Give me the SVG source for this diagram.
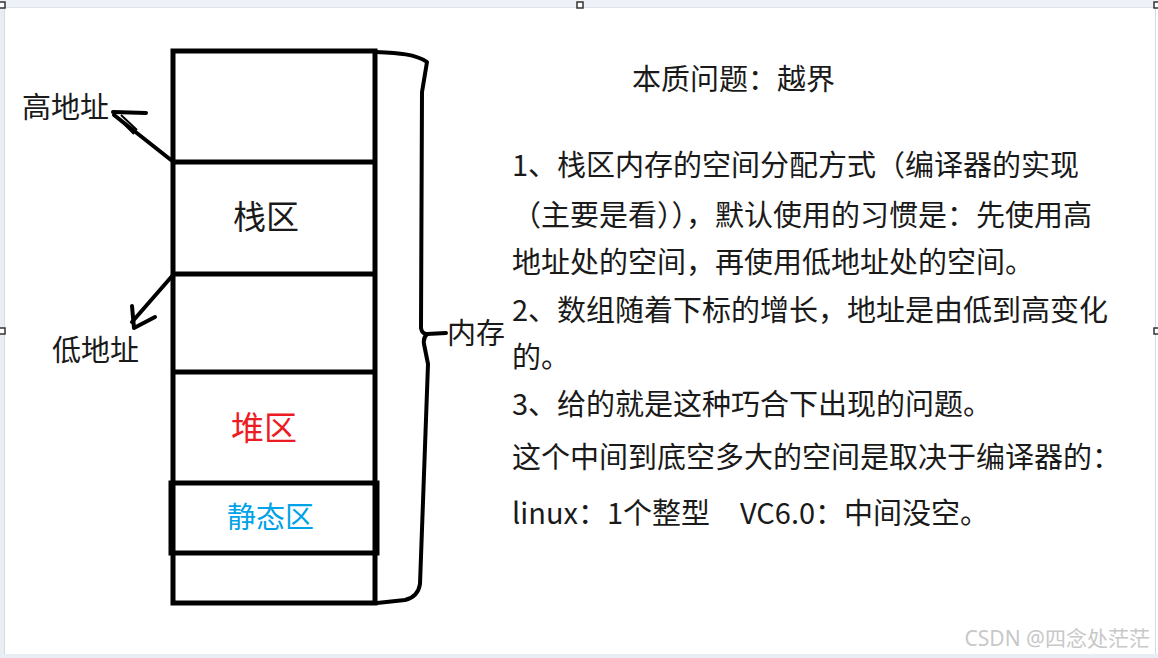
<svg xmlns="http://www.w3.org/2000/svg" width="1158" height="658" viewBox="0 0 1158 658">
<style>
.t{font-family:"Microsoft YaHei","Noto Sans CJK SC","Noto Sans",sans-serif;fill:#1a1a1a}
.b{fill:none;stroke:#000;stroke-width:5}
.h{fill:none;stroke:#000;stroke-width:4;stroke-linecap:round;stroke-linejoin:round}
.hd{fill:#fff;stroke:#333;stroke-width:1.5}
</style>
<rect x="0" y="0" width="1158" height="658" fill="#fff"/>
<g id="frame">
<rect x="0" y="0" width="1158" height="7" fill="#eef2f8"/>
<line x1="0" y1="7.5" x2="1158" y2="7.5" stroke="#dde3ea" stroke-width="1"/>
<rect x="0" y="7" width="4" height="651" fill="#e9eef5"/>
<line x1="4.5" y1="7" x2="4.5" y2="658" stroke="#d5dbe3" stroke-width="1"/>
<line x1="1155.5" y1="7" x2="1155.5" y2="658" stroke="#d5dbe3" stroke-width="1"/>
<rect x="0" y="654" width="1158" height="4" fill="#e9eef5"/>
<rect x="-1" y="2" width="6" height="6" class="hd"/>
<rect x="577" y="2" width="6" height="6" class="hd"/>
<rect x="1154" y="2" width="6" height="6" class="hd"/>
<rect x="-1" y="328" width="6" height="6" class="hd"/>
<rect x="1154" y="328" width="6" height="6" class="hd"/>
</g>
<g id="memory">
<rect x="173" y="51" width="202" height="552" class="b"/>
<line x1="173" y1="162" x2="375" y2="162" class="b"/>
<line x1="173" y1="274" x2="375" y2="274" class="b"/>
<line x1="173" y1="372" x2="375" y2="372" class="b"/>
</g>
<g id="stack">
<text class="t" x="233" y="229" font-size="33">栈区</text>
</g>
<g id="heap">
<text class="t" x="231" y="440" font-size="33" style="fill:#ed1c24">堆区</text>
</g>
<g id="static">
<rect x="171" y="483" width="206" height="70" class="b" stroke-width="6"/>
<text class="t" x="227" y="528" font-size="29" style="fill:#00a2e8">静态区</text>
</g>
<g id="connectors">
<path class="h" d="M171,160 L114,115"/>
<path class="h" d="M113,112 L146,113"/>
<path fill="none" stroke="#000" stroke-width="2" d="M116,116 L134,134 M121,115 L137,130"/>
<path class="h" d="M173,275 L132,322"/>
<path class="h" d="M132,306 L134,328 L155,317"/>
<path class="h" d="M376,52 C398,53 416,54 427,62 L422,92 L421,328 Q422,334 427,334 L446,333"/>
<path class="h" d="M427,334 Q423,338 424,344 L428,364 L420,584 Q418,597 405,600 L377,603"/>
</g>
<g id="labels">
<text class="t" x="22" y="118" font-size="29">高地址</text>
<text class="t" x="52" y="361" font-size="29">低地址</text>
<text class="t" x="447" y="344" font-size="29">内存</text>
</g>
<g id="notes">
<text class="t" x="632" y="90" font-size="29">本质问题：越界</text>
<text class="t" x="512" y="176" font-size="29">1、栈区内存的空间分配方式（编译器的实现</text>
<text class="t" x="512" y="226" font-size="29">（主要是看）），默认使用的习惯是：先使用高</text>
<text class="t" x="512" y="273" font-size="29">地址处的空间，再使用低地址处的空间。</text>
<text class="t" x="512" y="321" font-size="29">2、数组随着下标的增长，地址是由低到高变化</text>
<text class="t" x="512" y="368" font-size="29">的。</text>
<text class="t" x="512" y="415" font-size="29">3、给的就是这种巧合下出现的问题。</text>
<text class="t" x="512" y="468" font-size="29">这个中间到底空多大的空间是取决于编译器的：</text>
<text class="t" x="512" y="524" font-size="29">linux：1个整型</text>
<text class="t" x="740" y="524" font-size="29">VC6.0：中间没空。</text>
</g>
<g id="watermark">
<text x="1150" y="646" font-size="21" text-anchor="end" style="font-family:'Noto Sans','Noto Sans CJK SC',sans-serif;fill:#c8c8c8">CSDN @四念处茫茫</text>
</g>
</svg>
